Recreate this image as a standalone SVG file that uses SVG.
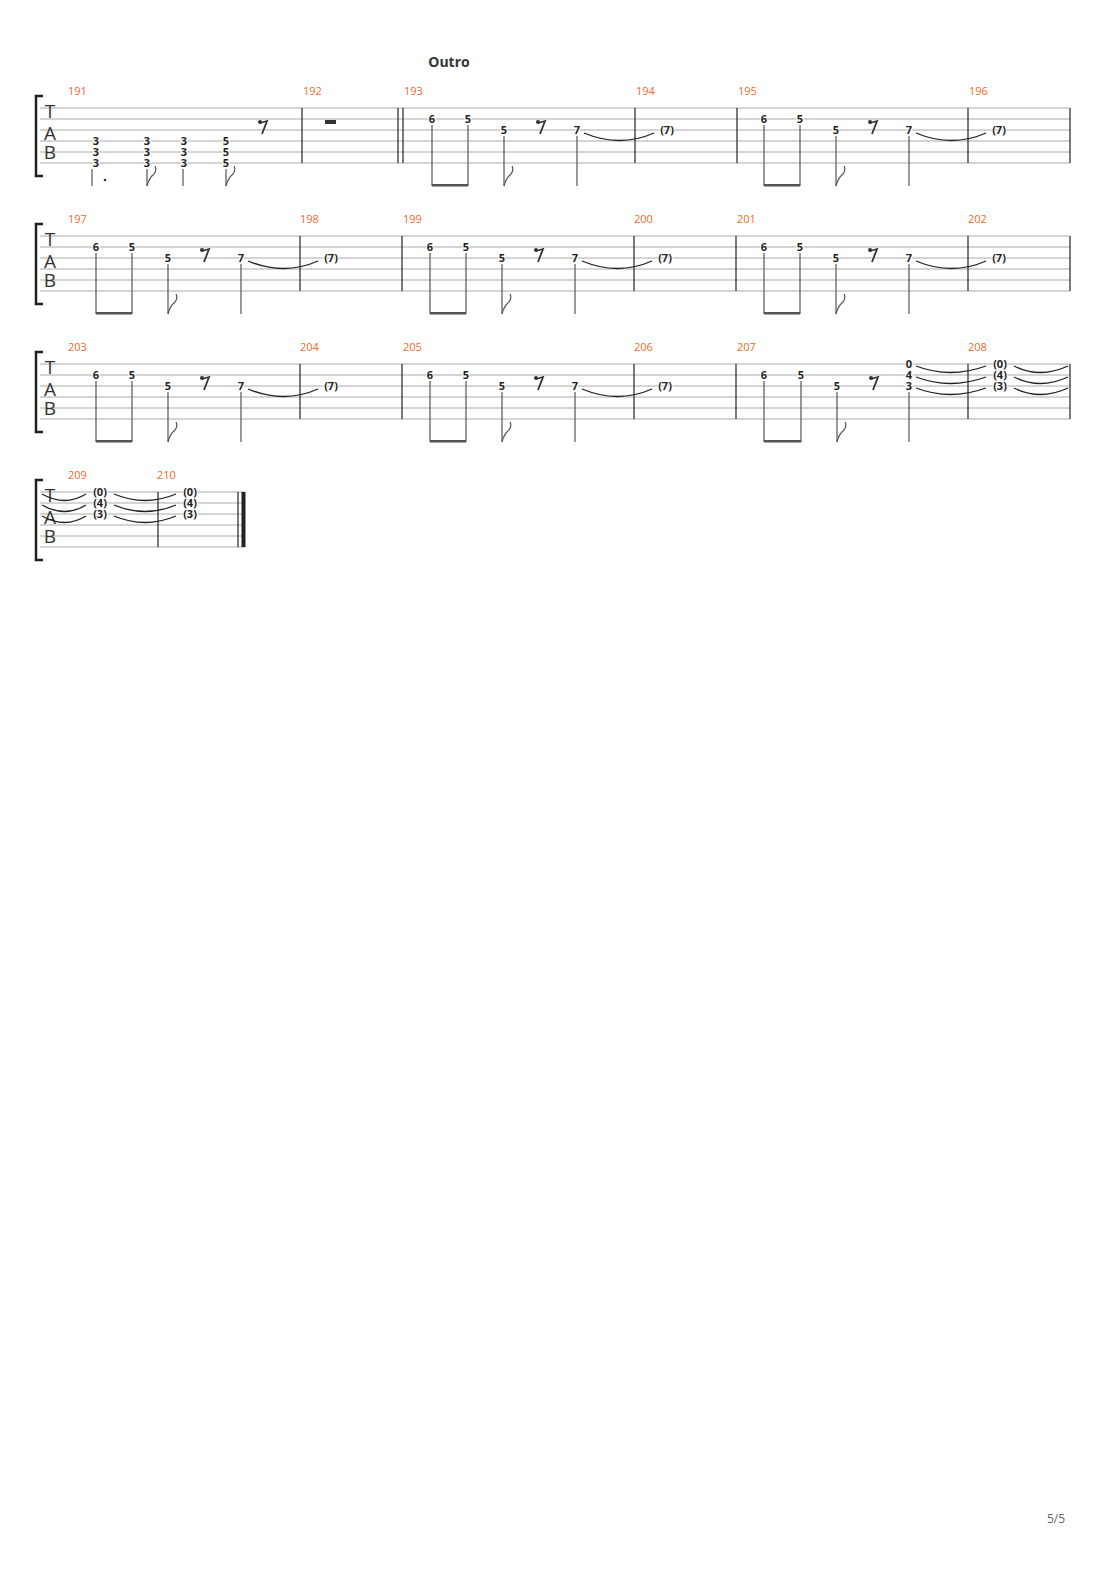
<svg xmlns="http://www.w3.org/2000/svg" width="1110" height="1570" viewBox="0 0 1110 1570">
<style>
.st{stroke:#aaa;stroke-width:1;fill:none}
.bar{stroke:#222;stroke-width:1.2}
.mn{font-family:"Open Sans","Liberation Sans",sans-serif;font-size:11px;fill:#f26a2a}
.n{font-family:"Open Sans","Liberation Sans",sans-serif;font-size:11px;font-weight:bold;fill:#222;text-anchor:middle;stroke:#fff;stroke-width:2;paint-order:stroke}
.tab{font-family:"Open Sans","Liberation Sans",sans-serif;font-size:19px;fill:#333;text-anchor:middle}
.stem{stroke:#555;stroke-width:1.2;fill:none}
.tie{stroke:#222;stroke-width:1.3;fill:none}
.br{stroke:#222;stroke-width:2.5;fill:none}
</style>
<defs>
<g id="staff">
<path class="st" d="M40 0H1070M40 11H1070M40 22H1070M40 33H1070M40 44H1070M40 55H1070"/>
<path class="br" d="M43 -12H36V68H43"/>
<text class="tab" x="50" y="10">T</text><text class="tab" x="50" y="32">A</text><text class="tab" x="50" y="51">B</text>
</g>
<g id="rest"><circle cx="-2" cy="14" r="2" fill="#333"/><path d="M-2 15L5 13L0 26" stroke="#333" stroke-width="1.8" fill="none"/></g>
<path id="flag" class="stem" d="M0 78Q2 70 7 66Q10 62 8 58"/>
<g id="pat">
<text class="n" x="0" y="15">6</text><text class="n" x="36" y="15">5</text><text class="n" x="72" y="26">5</text>
<use href="#rest" x="108"/>
<text class="n" x="145" y="26">7</text><text class="n" x="235" y="26">(7)</text>
<path class="stem" d="M0 17V78M36 17V78M72 28V78M145 28V78"/>
<rect x="0" y="76" width="36" height="2.5" fill="#555"/>
<use href="#flag" x="72"/>
<path class="tie" d="M152 25Q188 40 222 25"/>
</g>
</defs>
<text x="449" y="67" font-family="'Open Sans','Liberation Sans',sans-serif" font-size="14" font-weight="bold" fill="#333" text-anchor="middle">Outro</text>
<g id="sys1" transform="translate(0,108)">
<use href="#staff"/>
<g class="mn"><text x="68" y="-13">191</text><text x="303" y="-13">192</text><text x="404" y="-13">193</text><text x="636" y="-13">194</text><text x="738" y="-13">195</text><text x="969" y="-13">196</text></g>
<path class="bar" d="M302 0V55M398 0V55M403 0V55M635 0V55M737 0V55M968 0V55M1070 0V55"/>
<g id="m191">
<text class="n" x="96" y="37">3</text><text class="n" x="96" y="48">3</text><text class="n" x="96" y="59">3</text>
<text class="n" x="147" y="37">3</text><text class="n" x="147" y="48">3</text><text class="n" x="147" y="59">3</text>
<text class="n" x="184" y="37">3</text><text class="n" x="184" y="48">3</text><text class="n" x="184" y="59">3</text>
<text class="n" x="226" y="37">5</text><text class="n" x="226" y="48">5</text><text class="n" x="226" y="59">5</text>
<use href="#rest" x="262"/>
<path class="stem" d="M92 61V78M147 61V78M183 61V78M226 61V78"/>
<circle cx="105" cy="72" r="1.3" fill="#333"/>
<use href="#flag" x="147"/><use href="#flag" x="226"/>
</g>
<rect x="325" y="12" width="11" height="4" fill="#333"/>
<use href="#pat" x="432"/><use href="#pat" x="764"/>
</g>
<g id="sys2" transform="translate(0,236)">
<use href="#staff"/>
<g class="mn"><text x="68" y="-13">197</text><text x="300" y="-13">198</text><text x="403" y="-13">199</text><text x="634" y="-13">200</text><text x="737" y="-13">201</text><text x="968" y="-13">202</text></g>
<path class="bar" d="M300 0V55M402 0V55M634 0V55M736 0V55M968 0V55M1070 0V55"/>
<use href="#pat" x="96"/><use href="#pat" x="430"/><use href="#pat" x="764"/>
</g>
<g id="sys3" transform="translate(0,364)">
<use href="#staff"/>
<g class="mn"><text x="68" y="-13">203</text><text x="300" y="-13">204</text><text x="403" y="-13">205</text><text x="634" y="-13">206</text><text x="737" y="-13">207</text><text x="968" y="-13">208</text></g>
<path class="bar" d="M300 0V55M402 0V55M634 0V55M736 0V55M968 0V55M1070 0V55"/>
<use href="#pat" x="96"/><use href="#pat" x="430"/>
<g id="m207">
<text class="n" x="764" y="15">6</text><text class="n" x="801" y="15">5</text><text class="n" x="837" y="26">5</text>
<use href="#rest" x="873"/>
<path class="stem" d="M764 17V78M801 17V78M837 28V78M909 28V78"/>
<rect x="764" y="76" width="37" height="2.5" fill="#555"/>
<use href="#flag" x="837"/>
<text class="n" x="909" y="4">0</text><text class="n" x="909" y="15">4</text><text class="n" x="909" y="26">3</text>
<text class="n" x="1000" y="4">(0)</text><text class="n" x="1000" y="15">(4)</text><text class="n" x="1000" y="26">(3)</text>
<path class="tie" d="M916 2Q950 15 986 2M916 13Q950 26 986 13M916 24Q950 37 986 24"/>
<path class="tie" d="M1014 2Q1040 15 1068 2M1014 13Q1040 26 1068 13M1014 24Q1040 37 1068 24"/>
</g>
</g>
<g id="sys4" transform="translate(0,492)">
<path class="st" d="M40 0H245M40 11H245M40 22H245M40 33H245M40 44H245M40 55H245"/>
<path class="br" d="M43 -12H36V68H43"/>
<text class="tab" x="50" y="10">T</text><text class="tab" x="50" y="32">A</text><text class="tab" x="50" y="51">B</text>
<g class="mn"><text x="68" y="-13">209</text><text x="157" y="-13">210</text></g>
<path class="bar" d="M158 0V55M238 0V55"/>
<rect x="241.5" y="0" width="4" height="55" fill="#222"/>
<path class="tie" d="M42 2Q65 15 86 2M42 13Q65 26 86 13M42 24Q65 37 86 24"/>
<text class="n" x="100" y="4">(0)</text><text class="n" x="100" y="15">(4)</text><text class="n" x="100" y="26">(3)</text>
<path class="tie" d="M114 2Q145 15 176 2M114 13Q145 26 176 13M114 24Q145 37 176 24"/>
<text class="n" x="190" y="4">(0)</text><text class="n" x="190" y="15">(4)</text><text class="n" x="190" y="26">(3)</text>
</g>
<text x="1056" y="1523" font-family="'Open Sans','Liberation Sans',sans-serif" font-size="12" fill="#666" text-anchor="middle">5/5</text>
</svg>
